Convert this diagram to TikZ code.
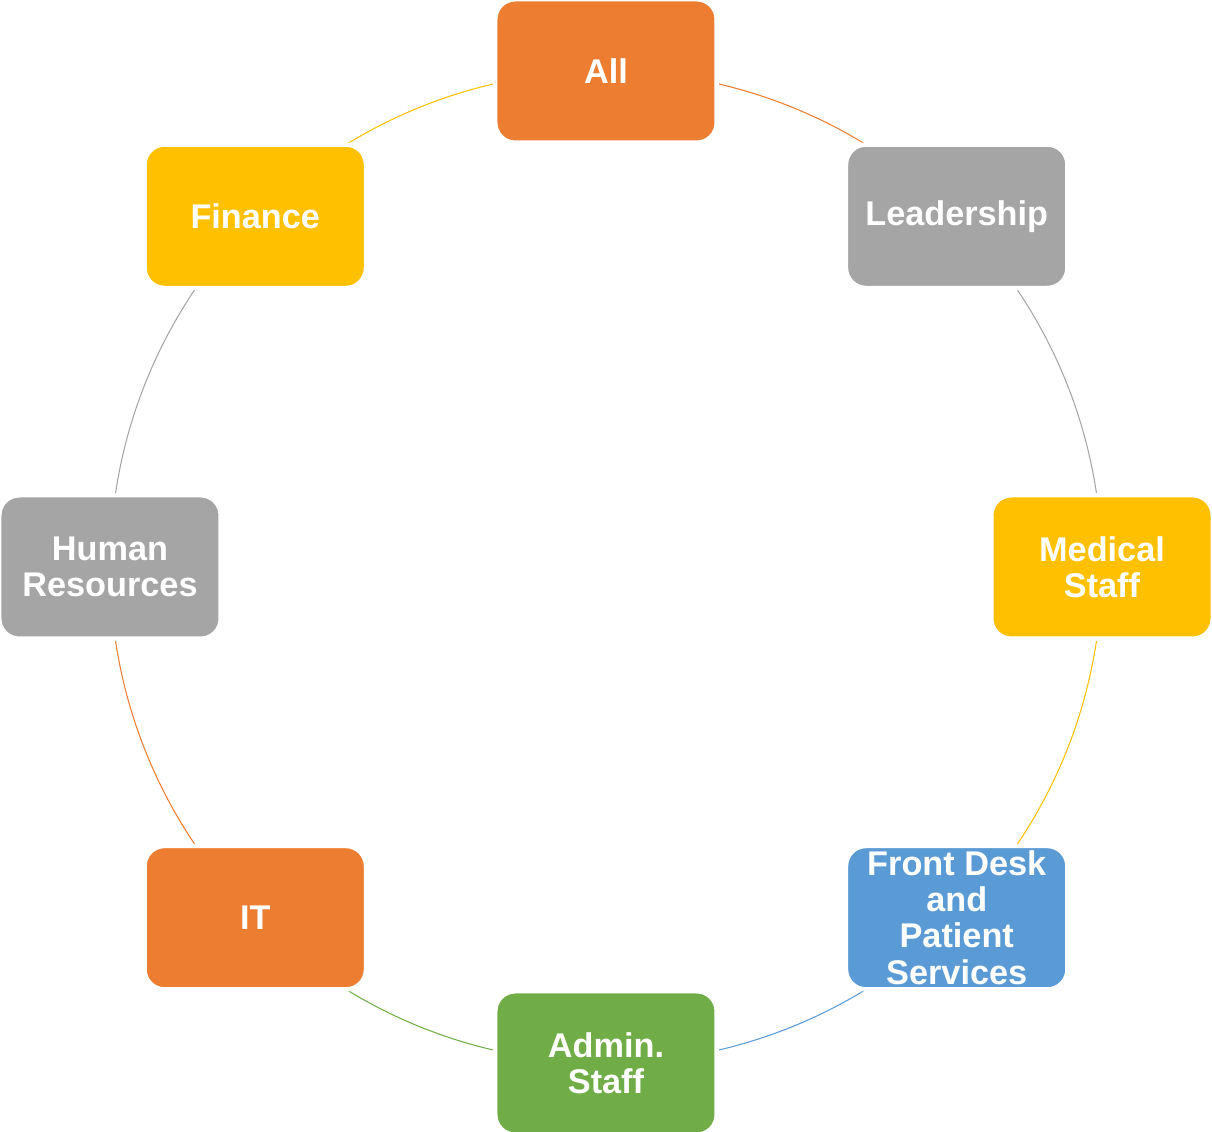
\documentclass[tikz,border=0pt]{standalone}
\usepackage{fontspec}
\setmainfont{Liberation Sans}
\usepackage{xcolor}
\usetikzlibrary{backgrounds}

\definecolor{cOrange}{HTML}{ED7D31}
\definecolor{cGray}{HTML}{A5A5A5}
\definecolor{cGold}{HTML}{FFC000}
\definecolor{cBlue}{HTML}{5B9BD5}
\definecolor{cGreen}{HTML}{70AD47}

\begin{document}
\begin{tikzpicture}[
    dept/.style={rectangle, rounded corners=0.4cm, fill=#1, draw=white,
      line width=2.5pt, minimum width=4.34cm+2.5pt, minimum height=2.78cm+2.5pt,
      inner sep=0pt, align=center, text=white,
      font=\fontsize{19.5}{20.5}\selectfont\bfseries},
    link/.style={draw=#1, line width=0.6pt}
  ]
  \def\R{9.92}
  \useasboundingbox (-12.12,-11.30) rectangle (12.12,11.34);

  % departments around the ring
  \node[dept=cOrange] (all)     at (90:\R)  {All};
  \node[dept=cGray]   (lead)    at (45:\R)  {Leadership};
  \node[dept=cGold]   (medical) at (0:\R)   {Medical\\Staff};
  \node[dept=cBlue]   (front)   at (-45:\R) {Front Desk\\and\\Patient\\Services};
  \node[dept=cGreen]  (admin)   at (-90:\R) {Admin.\\Staff};
  \node[dept=cOrange] (it)      at (-135:\R) {IT};
  \node[dept=cGray]   (hr)      at (180:\R) {Human\\Resources};
  \node[dept=cGold]   (finance) at (135:\R) {Finance};

  % ring segments, each in the colour of the box it leaves
  \begin{scope}[on background layer]
    \draw[link=cOrange] (all.center)     arc[start angle=90,   delta angle=-45, radius=\R];
    \draw[link=cGray]   (lead.center)    arc[start angle=45,   delta angle=-45, radius=\R];
    \draw[link=cGold]   (medical.center) arc[start angle=0,    delta angle=-45, radius=\R];
    \draw[link=cBlue]   (front.center)   arc[start angle=-45,  delta angle=-45, radius=\R];
    \draw[link=cGreen]  (admin.center)   arc[start angle=-90,  delta angle=-45, radius=\R];
    \draw[link=cOrange] (it.center)      arc[start angle=-135, delta angle=-45, radius=\R];
    \draw[link=cGray]   (hr.center)      arc[start angle=180,  delta angle=-45, radius=\R];
    \draw[link=cGold]   (finance.center) arc[start angle=135,  delta angle=-45, radius=\R];
  \end{scope}
\end{tikzpicture}
\end{document}
